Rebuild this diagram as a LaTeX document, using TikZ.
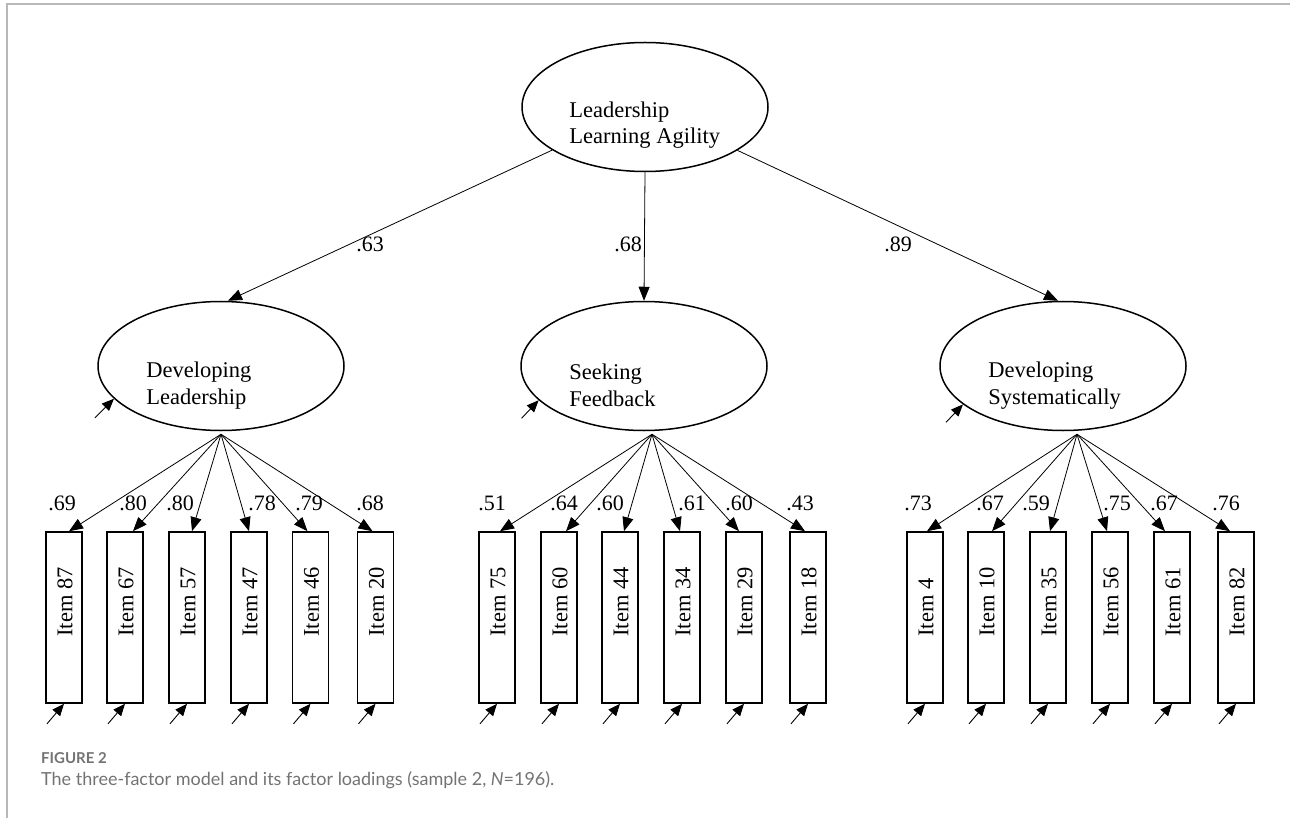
\documentclass[tikz,border=0pt]{standalone}
\usepackage{fontspec}
\setmainfont{Liberation Serif}
\newfontfamily\capfont{Lato}
\usetikzlibrary{shapes.geometric, arrows.meta, positioning}
\definecolor{framegray}{gray}{0.72}
\definecolor{capgray}{gray}{0.45}
\tikzstyle{factor} = [
  ellipse,
  minimum width=246pt,
  minimum height=129pt,
  inner sep=0,
  draw=black,
  line width=1.5pt
]
\tikzstyle{factortext} = [
  anchor=west,
  align=left,
  inner sep=0,
  font=\fontsize{22.5}{26.5}\selectfont
]
\tikzstyle{item} = [
  rectangle,
  minimum width=36pt,
  minimum height=171pt,
  inner sep=0,
  draw=black,
  line width=1.6pt
]
\tikzstyle{itemtext} = [
  rotate=90,
  anchor=west,
  inner sep=0,
  font=\fontsize{22.5}{26}\selectfont
]
\tikzstyle{loading} = [
  inner sep=0,
  font=\fontsize{22}{26}\selectfont
]
\tikzstyle{arrow} = [
  line width=0.8pt,
  -{Triangle[length=14pt,width=11pt]}
]
\tikzstyle{errarrow} = [
  line width=0.9pt,
  -{Triangle[length=12pt,width=10pt]}
]

\begin{document}
\begin{tikzpicture}[x=1pt, y=-1pt]
      \useasboundingbox (0,0) rectangle (1290,818);
      \draw [framegray, line width=2pt] (1290,4.5) -| (6.5,818);

      % factors
      \node [factor] (top) at (645,107) {};
      \node [factortext] (top-t) at ([xshift=48pt,yshift=-18pt]top.west) {Leadership\\Learning Agility};
      \node [factor] (dl) at (221,366) {};
      \node [factortext] (dl-t) at ([xshift=49pt,yshift=-19.5pt]dl.west) {Developing\\Leadership};
      \node [factor] (sf) at (644,366) {};
      \node [factortext] (sf-t) at ([xshift=49pt,yshift=-19.5pt]sf.west) {Seeking\\Feedback};
      \node [factor] (ds) at (1063,366) {};
      \node [factortext] (ds-t) at ([xshift=49pt,yshift=-19.5pt]ds.west) {Developing\\Systematically};

      \draw [arrow] (top) -- ([xshift=7pt]dl.north);
      \draw [arrow] (top.south) -- (sf.north);
      \draw [arrow] (top) -- ([xshift=-5pt]ds.north);
      \node [loading] (l-dl) at (370,244) {.63};
      \node [loading] (l-sf) at (628,244) {.68};
      \node [loading] (l-ds) at (898,244) {.89};

      \coordinate (dl-err) at ([shift={(-19,19)}]dl.197);
      \coordinate (sf-err) at ([shift={(-17,18)}]sf.198);
      \coordinate (ds-err) at ([shift={(-17,18)}]ds.201);
      \draw [errarrow] (dl-err) -- (dl.197);
      \draw [errarrow] (sf-err) -- (sf.198);
      \draw [errarrow] (ds-err) -- (ds.201);

      \coordinate (dl-b) at ([yshift=-3pt]dl.south);
      \coordinate (sf-b) at ([xshift=8pt,yshift=-3pt]sf.south);
      \coordinate (ds-b) at ([xshift=14pt,yshift=-3pt]ds.south);

      % developing leadership items
      \node [item] (i87) at (64,617.5) {};
      \node [itemtext] (i87-t) at ([xshift=1pt,yshift=67pt]i87.south) {Item 87};
      \node [item] (i67) at (125,617.5) {};
      \node [itemtext] (i67-t) at ([xshift=1pt,yshift=67pt]i67.south) {Item 67};
      \node [item] (i57) at (187,617.5) {};
      \node [itemtext] (i57-t) at ([xshift=1pt,yshift=67pt]i57.south) {Item 57};
      \node [item] (i47) at (249,617.5) {};
      \node [itemtext] (i47-t) at ([xshift=1pt,yshift=67pt]i47.south) {Item 47};
      \node [item] (i46) at (310.5,617.5) {};
      \node [itemtext] (i46-t) at ([xshift=1pt,yshift=67pt]i46.south) {Item 46};
      \node [item] (i20) at (375.5,617.5) {};
      \node [itemtext] (i20-t) at ([xshift=1pt,yshift=67pt]i20.south) {Item 20};

      \draw [arrow] (dl-b) -- ([xshift=5pt]i87.north);
      \draw [arrow] (dl-b) -- ([xshift=8pt]i67.north);
      \draw [arrow] (dl-b) -- ([xshift=5pt]i57.north);
      \draw [arrow] (dl-b) -- (i47.north);
      \draw [arrow] (dl-b) -- ([xshift=-3pt]i46.north);
      \draw [arrow] (dl-b) -- ([xshift=-3pt]i20.north);
      \node [loading] (l87) at (62,503) {.69};
      \node [loading] (l67) at (133,503) {.80};
      \node [loading] (l57) at (180,503) {.80};
      \node [loading] (l47) at (262,503) {.78};
      \node [loading] (l46) at (309,503) {.79};
      \node [loading] (l20) at (370,503) {.68};

      % seeking feedback items
      \node [item] (i75) at (497,617.5) {};
      \node [itemtext] (i75-t) at ([xshift=1pt,yshift=67pt]i75.south) {Item 75};
      \node [item] (i60) at (559,617.5) {};
      \node [itemtext] (i60-t) at ([xshift=1pt,yshift=67pt]i60.south) {Item 60};
      \node [item] (i44) at (620,617.5) {};
      \node [itemtext] (i44-t) at ([xshift=1pt,yshift=67pt]i44.south) {Item 44};
      \node [item] (i34) at (682,617.5) {};
      \node [itemtext] (i34-t) at ([xshift=1pt,yshift=67pt]i34.south) {Item 34};
      \node [item] (i29) at (744,617.5) {};
      \node [itemtext] (i29-t) at ([xshift=1pt,yshift=67pt]i29.south) {Item 29};
      \node [item] (i18) at (808,617.5) {};
      \node [itemtext] (i18-t) at ([xshift=1pt,yshift=67pt]i18.south) {Item 18};

      \draw [arrow] (sf-b) -- ([xshift=3pt]i75.north);
      \draw [arrow] (sf-b) -- ([xshift=7pt]i60.north);
      \draw [arrow] (sf-b) -- ([xshift=4pt]i44.north);
      \draw [arrow] (sf-b) -- ([xshift=-2pt]i34.north);
      \draw [arrow] (sf-b) -- ([xshift=-5pt]i29.north);
      \draw [arrow] (sf-b) -- ([xshift=-3pt]i18.north);
      \node [loading] (l75) at (492,503) {.51};
      \node [loading] (l60) at (564,503) {.64};
      \node [loading] (l44) at (610,503) {.60};
      \node [loading] (l34) at (692,503) {.61};
      \node [loading] (l29) at (739,503) {.60};
      \node [loading] (l18) at (800,503) {.43};

      % developing systematically items
      \node [item] (i4) at (925,617.5) {};
      \node [itemtext] (i4-t) at ([xshift=1pt,yshift=67pt]i4.south) {Item 4};
      \node [item] (i10) at (986,617.5) {};
      \node [itemtext] (i10-t) at ([xshift=1pt,yshift=67pt]i10.south) {Item 10};
      \node [item] (i35) at (1048,617.5) {};
      \node [itemtext] (i35-t) at ([xshift=1pt,yshift=67pt]i35.south) {Item 35};
      \node [item] (i56) at (1110,617.5) {};
      \node [itemtext] (i56-t) at ([xshift=1pt,yshift=67pt]i56.south) {Item 56};
      \node [item] (i61) at (1172,617.5) {};
      \node [itemtext] (i61-t) at ([xshift=1pt,yshift=67pt]i61.south) {Item 61};
      \node [item] (i82) at (1236,617.5) {};
      \node [itemtext] (i82-t) at ([xshift=1pt,yshift=67pt]i82.south) {Item 82};

      \draw [arrow] (ds-b) -- ([xshift=2pt]i4.north);
      \draw [arrow] (ds-b) -- ([xshift=6pt]i10.north);
      \draw [arrow] (ds-b) -- ([xshift=2pt]i35.north);
      \draw [arrow] (ds-b) -- ([xshift=-3pt]i56.north);
      \draw [arrow] (ds-b) -- ([xshift=-7pt]i61.north);
      \draw [arrow] (ds-b) -- ([xshift=-6pt]i82.north);
      \node [loading] (l4) at (918,503) {.73};
      \node [loading] (l10) at (990,503) {.67};
      \node [loading] (l35) at (1036,503) {.59};
      \node [loading] (l56) at (1117,503) {.75};
      \node [loading] (l61) at (1164,503) {.67};
      \node [loading] (l82) at (1226,503) {.76};

      % residuals
      \foreach \i in {i87,i67,i57,i47,i46,i20,i75,i60,i44,i34,i29,i18,i4,i10,i35,i56,i61,i82}{
        \coordinate (\i-err) at ([shift={(-17,20)}]\i.south);
        \draw [errarrow] (\i-err) -- (\i.south);
      }

      % caption
      \node [anchor=west, inner sep=0, text=capgray, font=\capfont\bfseries\fontsize{15}{18}\selectfont] (fig) at (41,758) {FIGURE 2};
      \node [anchor=west, inner sep=0, text=capgray, font=\capfont\fontsize{18}{22}\selectfont] (cap) at (41,780) {The three-factor model and its factor loadings (sample 2, \textit{N}=196).};

    \end{tikzpicture}
\end{document}
